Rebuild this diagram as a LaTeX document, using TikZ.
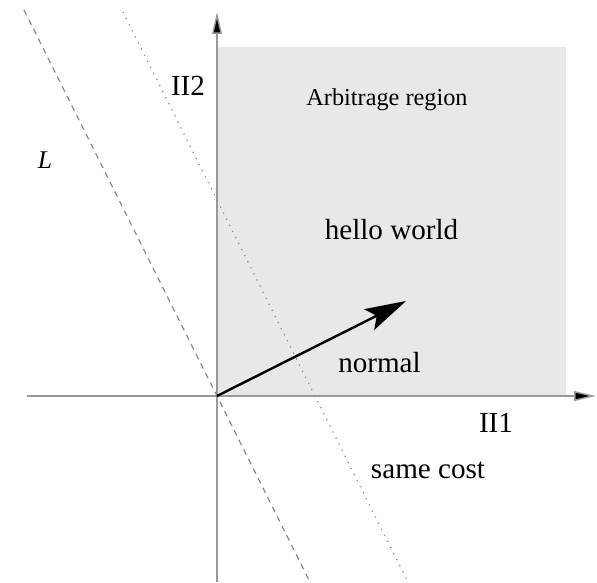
\documentclass[tikz,border=0pt]{standalone}
\usepackage{fontspec}
\setmainfont{Liberation Serif}
\usetikzlibrary{arrows.meta, positioning}

\begin{document}
\begin{tikzpicture}[
    x=4.12pt, y=4.12pt,
    axis/.style={draw=gray!80, line width=0.6pt, -{Triangle[length=9pt, width=4pt, fill=black]}},
    region/.style={fill=black!9, draw=none},
    lline/.style={draw=gray!90, line width=0.5pt, dash pattern=on 2.4pt off 2pt},
    costline/.style={draw=gray!90, line width=0.5pt, dash pattern=on 0.5pt off 2.3pt},
    normalarrow/.style={draw=black, line width=1pt, -{Stealth[length=17pt, width=9.5pt, inset=3.5pt]}},
    lbl/.style={font=\fontsize{12}{14}\selectfont, inner sep=1pt},
    smalllbl/.style={font=\fontsize{10}{12}\selectfont, inner sep=1pt}
]
\useasboundingbox (-21.7,-18.6) rectangle (38.0,39.6);

% shaded region
\fill[region] (0,0) rectangle (34.9,34.9);

% axes
\coordinate (O) at (0,0);
\coordinate (xstart) at (-19.0,0);
\coordinate (xend) at (37.9,0);
\coordinate (ystart) at (0,-18.6);
\coordinate (yend) at (0,38.4);
\draw[axis] (xstart) -- (xend);
\draw[axis] (ystart) -- (yend);

% line L and same-cost line
\coordinate (Ltop) at (-19.3,38.6);
\coordinate (Lbot) at (9.3,-18.6);
\coordinate (Ctop) at (-9.4,38.4);
\coordinate (Cbot) at (19.1,-18.6);
\draw[lline] (Ltop) -- (Lbot);
\draw[costline] (Ctop) -- (Cbot);

% normal vector
\coordinate (ntip) at (18.9,9.5);
\draw[normalarrow] (O) -- (ntip);

% labels
\node[lbl] (pitwo) at (-2.9,31.0) {II2};
\node[lbl] (pione) at (27.9,-2.7) {II1};
\node[smalllbl, font=\fontsize{10.5}{12}\selectfont] (lname) at (-17.2,23.6) {\textit{L}};
\node[smalllbl] (arb) at (17.0,29.6) {Arbitrage region};
\node[lbl] (hello) at (17.45,16.6) {hello world};
\node[lbl] (nrm) at (16.25,3.3) {normal};
\node[lbl] (cost) at (21.1,-7.4) {same cost};
\end{tikzpicture}
\end{document}
